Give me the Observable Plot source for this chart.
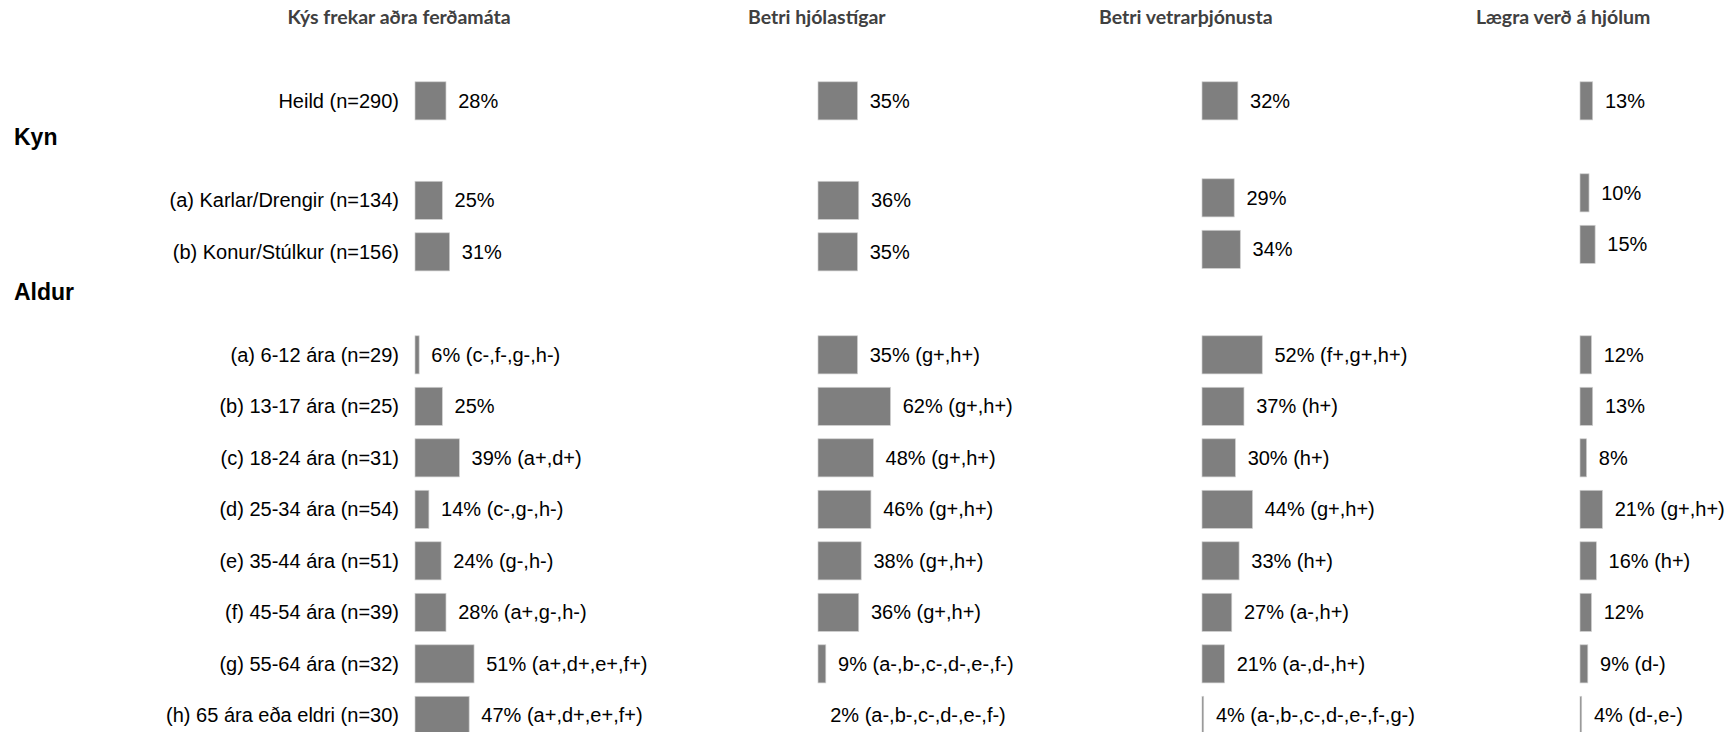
<!DOCTYPE html>
<html>
<head>
<meta charset="utf-8">
<script src="https://cdn.jsdelivr.net/npm/d3@7"></script>
<script src="https://cdn.jsdelivr.net/npm/@observablehq/plot@0.6"></script>
<style>
  html, body { margin: 0; padding: 0; background: #ffffff; }
  #chart { display: flex; flex-direction: row; width: 1729px; height: 732px; overflow: hidden; }
  #chart svg { overflow: visible; display: block; }
</style>
</head>
<body>
<div id="chart"></div>
<script>
// ---- data ----
const groups = ["Kyn", "Aldur"];
const rowLabels = [
  "Heild (n=290)",
  "(a) Karlar/Drengir (n=134)",
  "(b) Konur/Stúlkur (n=156)",
  "(a) 6-12 ára (n=29)",
  "(b) 13-17 ára (n=25)",
  "(c) 18-24 ára (n=31)",
  "(d) 25-34 ára (n=54)",
  "(e) 35-44 ára (n=51)",
  "(f) 45-54 ára (n=39)",
  "(g) 55-64 ára (n=32)",
  "(h) 65 ára eða eldri (n=30)"
];
const rowGroup = ["Heild", "Kyn", "Kyn", "Aldur", "Aldur", "Aldur", "Aldur", "Aldur", "Aldur", "Aldur", "Aldur"];
// vertical slot order: group headings occupy their own slot
const slotOrder = [
  "Heild (n=290)", "Kyn",
  "(a) Karlar/Drengir (n=134)", "(b) Konur/Stúlkur (n=156)", "Aldur",
  "(a) 6-12 ára (n=29)", "(b) 13-17 ára (n=25)", "(c) 18-24 ára (n=31)",
  "(d) 25-34 ára (n=54)", "(e) 35-44 ára (n=51)", "(f) 45-54 ára (n=39)",
  "(g) 55-64 ára (n=32)", "(h) 65 ára eða eldri (n=30)"
];
const titles = ["Kýs frekar aðra ferðamáta", "Betri hjólastígar", "Betri vetrarþjónusta", "Lægra verð á hjólum"];

const values1 = [28, 25, 31, 6, 25, 39, 14, 24, 28, 51, 47];
const notes1 = ["", "", "", "c-,f-,g-,h-", "", "a+,d+", "c-,g-,h-", "g-,h-", "a+,g-,h-", "a+,d+,e+,f+", "a+,d+,e+,f+"];

const values2 = [35, 36, 35, 35, 62, 48, 46, 38, 36, 9, 2];
const notes2 = ["", "", "", "g+,h+", "g+,h+", "g+,h+", "g+,h+", "g+,h+", "g+,h+", "a-,b-,c-,d-,e-,f-", "a-,b-,c-,d-,e-,f-"];

const values3 = [32, 29, 34, 52, 37, 30, 44, 33, 27, 21, 4];
const notes3 = ["", "", "", "f+,g+,h+", "h+", "h+", "g+,h+", "h+", "a-,h+", "a-,d-,h+", "a-,b-,c-,d-,e-,f-,g-"];

const values4 = [13, 10, 15, 12, 13, 8, 21, 16, 12, 9, 4];
const notes4 = ["", "", "", "", "", "", "g+,h+", "h+", "", "d-", "d-,e-"];

// ---- layout / style (not data) ----
const layout = {
  widths: [818, 384, 378, 149],
  barStart: [415, 0, 0, 0],
  titleDx: [-16.4, -1.7, -16.7, -17.3],
  sectionDy: {Heild: [3.5, 3.5, 3.5, 3.5], Kyn: [0, 0, -2.5, -7.5], Aldur: [0, 0, 0, 0]},
  pxPerUnit: 1.22,
  xMin: 2.6,
  yRange: [64.9, 747.8],
  yPadding: 0.26,
  height: 732
};
const barColor = "#7f7f7f";

const columns = [
  {values: values1, notes: notes1},
  {values: values2, notes: notes2},
  {values: values3, notes: notes3},
  {values: values4, notes: notes4}
];

const container = document.getElementById("chart");

columns.forEach((col, ci) => {
  const data = rowLabels.map((r, i) => ({row: r, group: rowGroup[i], v: col.values[i], note: col.notes[i]}));
  const start = layout.barStart[ci];
  const marks = [];
  ["Heild", "Kyn", "Aldur"].forEach(part => {
    const dy = layout.sectionDy[part][ci];
    const sub = data.filter(d => d.group === part);
    marks.push(
      Plot.barX(sub, {
        x1: d => 0, x2: "v", y: "row", dy,
        fill: barColor, stroke: "#cfcfcf", strokeWidth: 0.7
      }),
      Plot.text(sub, {
        x: "v", y: "row", dy,
        text: d => d.v + "%" + (d.note ? " (" + d.note + ")" : ""),
        textAnchor: "start", dx: 11.7, fill: "#000"
      })
    );
    if (ci === 0) {
      marks.push(
        Plot.text(sub, {
          x: d => 0, y: "row", dy, text: "row",
          textAnchor: "end", dx: -16.5, fill: "#000"
        })
      );
    }
  });
  marks.push(
    Plot.text([titles[ci]], {
      x: d => 0, frameAnchor: "top", text: d => d,
      dx: layout.titleDx[ci], dy: 17.6, lineAnchor: "middle", textAnchor: "middle",
      fontFamily: "Lato, 'Open Sans', sans-serif", fontWeight: 700, fontSize: 19.5, fill: "#404040"
    })
  );
  if (ci === 0) {
    marks.push(
      Plot.text(groups, {
        y: d => d, text: d => d, frameAnchor: "left",
        textAnchor: "start", dx: 13.5, dy: -11.5,
        fontWeight: "bold", fontSize: 23, fill: "#000"
      })
    );
  }
  const chart = Plot.plot({
    width: layout.widths[ci],
    height: layout.height,
    marginTop: 0, marginBottom: 0, marginLeft: 0, marginRight: 0,
    style: {fontFamily: "'Liberation Sans', Arial, sans-serif", fontSize: "20px", color: "#000", background: "transparent", overflow: "visible"},
    x: {
      type: "linear",
      domain: [layout.xMin, 100],
      range: [start, start + layout.pxPerUnit * (100 - layout.xMin)],
      clamp: true, axis: null
    },
    y: {
      type: "band", domain: slotOrder, range: layout.yRange,
      padding: layout.yPadding, round: false, axis: null
    },
    marks
  });
  container.appendChild(chart);
});
</script>
</body>
</html>
